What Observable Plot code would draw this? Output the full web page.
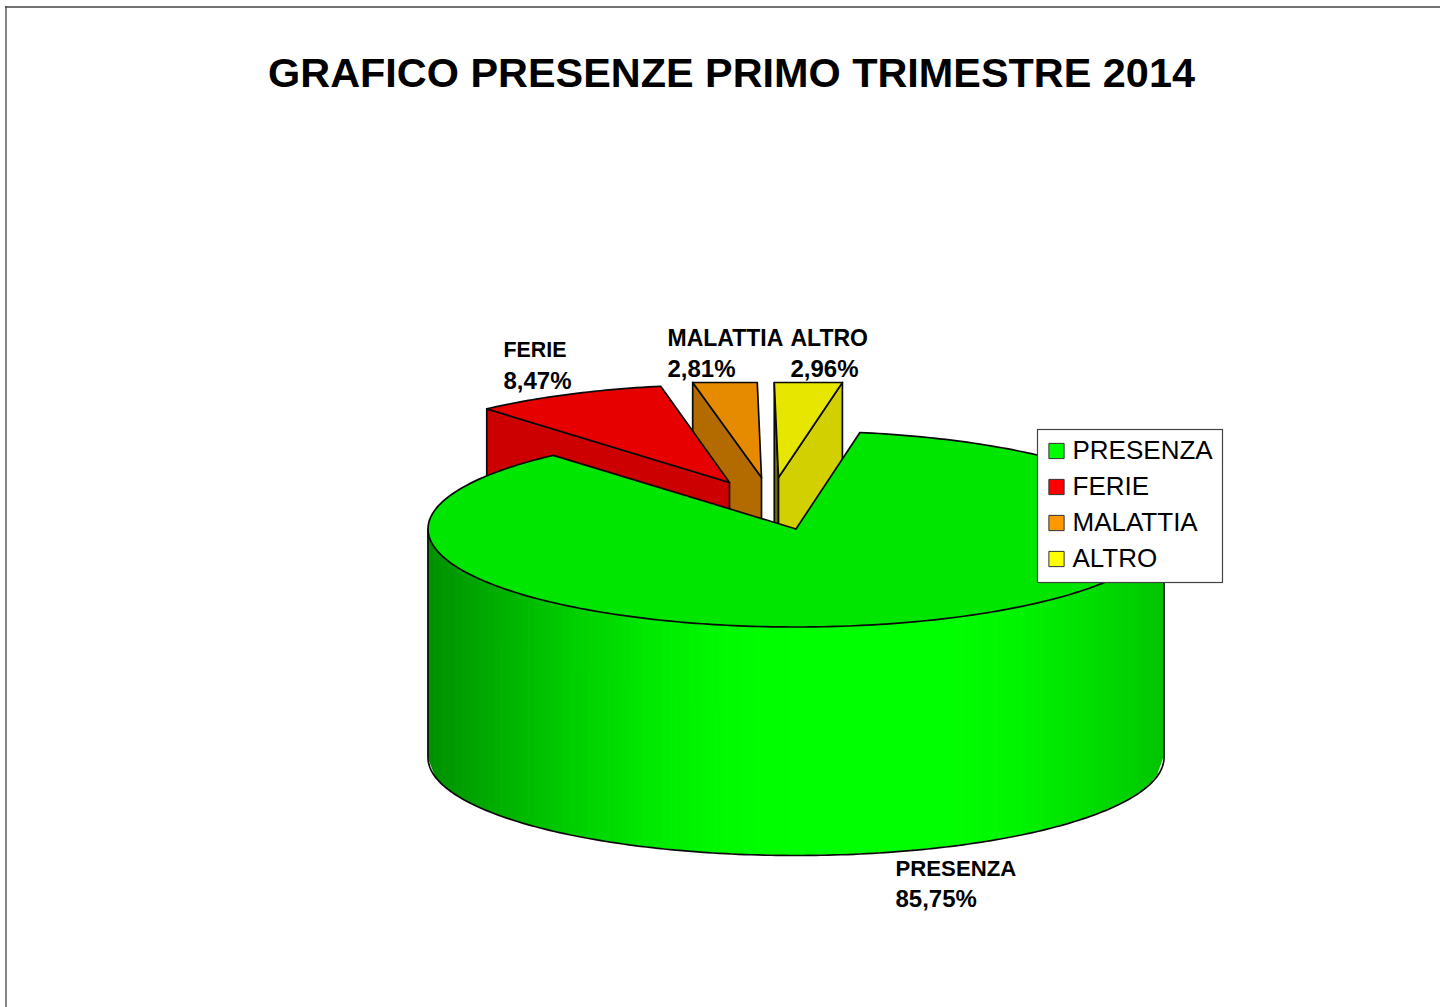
<!DOCTYPE html>
<html>
<head>
<meta charset="utf-8">
<script src="https://cdn.jsdelivr.net/npm/d3@7"></script>
<script src="https://cdn.jsdelivr.net/npm/@observablehq/plot@0.6"></script>
<style>html,body{margin:0;padding:0;background:#fff;overflow:hidden}svg{display:block}</style>
</head>
<body>
<div id="chart"></div>
<script>
const categories = ["PRESENZA", "FERIE", "MALATTIA", "ALTRO"];
const percentages = [85.75, 8.47, 2.81, 2.96];
const titleText = "GRAFICO PRESENZE PRIMO TRIMESTRE 2014";
const legendColors = ["#00ff00", "#ff0000", "#ff9900", "#ffff00"];
const topColors = ["#00e600", "#e60000", "#e68a00", "#e6e600"];
const faceColors = ["#00cc00", "#cc0000", "#b36b00", "#d2d000"];

// Layout of the tilted pie
const W = 1440, H = 1007;
const rx = 368, ry = 98, depth = 228.5;
const firstAngle = 10;
const clipTop = 382;
const centres = [[795.5, 528.5], [729, 482], [761, 477], [778, 477]];
const labelAt = [[895, 868], [503, 350], [667, 338], [790, 338]];
const nameSizes = [22.2, 21.4, 23, 23];
const valueSize = 24;
const labelLine = 31;
const rimStops = ["#008f00", "#00b000", "#00cf00", "#00e800", "#00fa00", "#00ff00", "#00ff00", "#00ff00", "#00f400", "#00de00", "#00c400"];

// Angles (degrees clockwise from the back of the pie) from the percentages
const total = d3.sum(percentages);
let acc = firstAngle;
const slices = categories.map((name, i) => {
  const a0 = acc; acc += percentages[i] / total * 360;
  return {name, value: percentages[i], a0, a1: acc, c: centres[i], i};
});
const pt = (c, deg) => {
  const r = deg * Math.PI / 180;
  return {x: c[0] + rx * Math.sin(r), y: Math.max(clipTop, c[1] - ry * Math.cos(r))};
};
const arc = (c, a0, a1) => {
  const n = Math.max(2, Math.ceil(Math.abs(a1 - a0)));
  return d3.range(n + 1).map(k => pt(c, a0 + (a1 - a0) * k / n));
};
const wedge = s => {
  const apex = {x: s.c[0], y: s.c[1]};
  return [apex, ...arc(s.c, s.a0, s.a1), apex];
};
const face = (s, deg) => {
  const apex = {x: s.c[0], y: s.c[1]}, p = pt(s.c, deg);
  return [p, apex, {x: apex.x, y: apex.y + depth}, {x: p.x, y: p.y + depth}, p];
};
const poly = (pts, fill, sw = 1.7) => Plot.line(pts, {x: "x", y: "y", fill, stroke: "#0a0a0a", strokeWidth: sw, curve: "linear", strokeLinejoin: "round"});

// Cylinder rim, in vertical bands of shade
const [P, F, M, A] = slices;
const shade = d3.piecewise(d3.interpolateRgb, rimStops);
const nBands = 110;
const cG = P.c;
const bottomY = x => cG[1] + depth + ry * Math.sqrt(Math.max(0, 1 - ((x - cG[0]) / rx) ** 2));
const rim = d3.range(nBands).flatMap(b => {
  const x0 = cG[0] - rx + 2 * rx * b / nBands;
  const x1 = cG[0] - rx + 2 * rx * (b + 1) / nBands;
  const color = d3.color(shade((b + .5) / nBands)).formatHex();
  const xe = Math.min(cG[0] + rx, x1 + .7);
  return [
    {band: b, x: x0, y1: cG[1], y2: bottomY(x0), color},
    {band: b, x: xe, y1: cG[1], y2: bottomY(xe), color}
  ];
});
const rimOutline = [
  {x: cG[0] - rx, y: cG[1]},
  ...arc([cG[0], cG[1] + depth], 270, 90),
  {x: cG[0] + rx, y: cG[1]}
];

// Legend rows
const legendRows = categories.map((name, i) => ({name, i, color: legendColors[i], y: 450.5 + 36 * i}));
const legendBox = [{x1: 1037.5, x2: 1222.5, y1: 429.5, y2: 582.5}];

// Value labels
const fmt = v => v.toFixed(2).replace(".", ",") + "%";
const nameRows = slices.map((s, i) => ({text: s.name, x: labelAt[i][0], y: labelAt[i][1], size: nameSizes[i]}));
const valueRows = slices.map((s, i) => ({text: fmt(s.value), x: labelAt[i][0], y: labelAt[i][1] + labelLine}));

const chart = Plot.plot({
  width: W, height: H,
  margin: 0,
  x: {domain: [0, W], range: [0, W], axis: null},
  y: {domain: [0, H], range: [0, H], axis: null},
  color: {type: "identity"},
  style: {background: "#fff", fontFamily: "'Liberation Sans', Arial, sans-serif"},
  marks: [
    // chart frame
    Plot.ruleY([6.5], {x1: 5, x2: W, stroke: "#444", strokeWidth: 1.3}),
    Plot.ruleX([5.5], {y1: 6, y2: H, stroke: "#444", strokeWidth: 1.3}),
    // title
    Plot.text([titleText], {x: 731, y: 73, text: d => d, fontSize: 41.4, fontWeight: "bold", fill: "#000", textAnchor: "middle"}),
    // detached slices, back to front
    poly(face(M, M.a0), faceColors[2]),
    poly(wedge(M), topColors[2]),
    poly(face(A, A.a0), "#6e6c00"),
    poly(face(A, A.a1), faceColors[3]),
    poly(wedge(A), topColors[3]),
    poly(face(F, F.a0), faceColors[1]),
    poly(wedge(F), topColors[1]),
    // main slice
    Plot.areaY(rim, {x: "x", y1: "y1", y2: "y2", z: "band", fill: "color", curve: "linear"}),
    Plot.line(rimOutline, {x: "x", y: "y", stroke: "#0a0a0a", strokeWidth: 1.7, curve: "linear"}),
    poly(wedge(P), topColors[0]),
    // value labels
    Plot.text(nameRows, {x: "x", y: "y", text: "text", textAnchor: "start", fontSize: "size", fontWeight: "bold", fill: "#000"}),
    Plot.text(valueRows, {x: "x", y: "y", text: "text", textAnchor: "start", fontSize: valueSize, fontWeight: "bold", fill: "#000"}),
    // legend
    Plot.rect(legendBox, {x1: "x1", x2: "x2", y1: "y1", y2: "y2", fill: "#fff", stroke: "#444", strokeWidth: 1.2}),
    Plot.dot(legendRows, {x: 1056, y: "y", symbol: "square", r: 8.6, fill: "color", stroke: "#333", strokeWidth: 1}),
    Plot.text(legendRows, {x: 1072, y: "y", text: "name", textAnchor: "start", fontSize: 26, fill: "#000"})
  ]
});
document.getElementById("chart").appendChild(chart);
</script>
</body>
</html>
